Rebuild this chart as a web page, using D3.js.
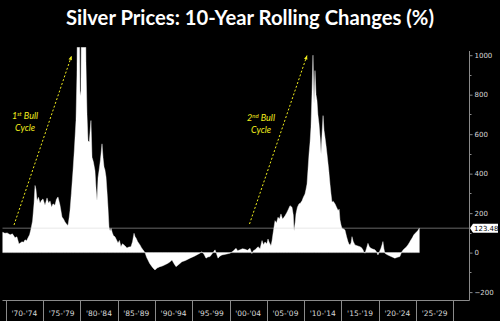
<!DOCTYPE html>
<html>
<head>
<meta charset="utf-8">
<script src="https://cdn.jsdelivr.net/npm/d3@7"></script>
<style>
  html, body { margin: 0; padding: 0; background: #000; }
  svg { display: block; }
</style>
</head>
<body>
<div id="chart"></div>
<script>
// 10-year rolling change of silver price, %
var years = [
  1969.6, 1969.9, 1970.2, 1970.6, 1970.9, 1971.25, 1971.5, 1971.78, 1972.0, 1972.18,
  1972.4, 1972.59, 1972.8, 1972.99, 1973.2, 1973.39, 1973.6, 1973.8, 1973.93, 1974.06,
  1974.2, 1974.4, 1974.6, 1974.8, 1975.0, 1975.27, 1975.54, 1975.75, 1975.94, 1976.15,
  1976.34, 1976.6, 1976.8, 1977.01, 1977.28, 1977.55, 1977.75, 1977.95, 1978.15, 1978.35,
  1978.5, 1978.62, 1978.8, 1979.02, 1979.2, 1979.42, 1979.55, 1979.69, 1979.85, 1979.96,
  1980.09, 1980.23, 1980.45, 1980.63, 1980.76, 1980.9, 1981.03, 1981.2, 1981.43, 1981.57,
  1981.75, 1981.97, 1982.1, 1982.24, 1982.38, 1982.51, 1982.7, 1982.91, 1983.05, 1983.18,
  1983.3, 1983.45, 1983.6, 1983.71, 1983.85, 1984.0, 1984.12, 1984.3, 1984.45, 1984.65,
  1984.85, 1985.05, 1985.25, 1985.45, 1985.65, 1985.86, 1986.05, 1986.26, 1986.5, 1986.79,
  1987.0, 1987.2, 1987.35, 1987.47, 1987.7, 1988.0, 1988.2, 1988.4, 1988.67, 1988.9,
  1989.07, 1989.3, 1989.61, 1989.8, 1990.01, 1990.3, 1990.68, 1991.0, 1991.35, 1991.7,
  1992.0, 1992.29, 1992.55, 1992.83, 1993.2, 1993.63, 1994.1, 1994.7, 1995.3, 1996.04,
  1996.31, 1996.6, 1996.85, 1997.1, 1997.39, 1997.7, 1998.06, 1998.25, 1998.46, 1998.7,
  1998.99, 1999.5, 2000.07, 2000.5, 2000.87, 2001.1, 2001.41, 2001.75, 2002.08, 2002.4,
  2002.75, 2003.0, 2003.2, 2003.42, 2003.82, 2004.1, 2004.36, 2004.55, 2004.76, 2005.0,
  2005.16, 2005.35, 2005.56, 2005.7, 2005.83, 2006.1, 2006.3, 2006.5, 2006.7, 2006.9,
  2007.1, 2007.31, 2007.5, 2007.71, 2007.9, 2008.11, 2008.38, 2008.55, 2008.65, 2008.8,
  2008.91, 2009.1, 2009.32, 2009.5, 2009.72, 2009.9, 2010.12, 2010.25, 2010.39, 2010.52,
  2010.66, 2010.8, 2010.92, 2011.05, 2011.19, 2011.28, 2011.33, 2011.4, 2011.46, 2011.6,
  2011.73, 2011.85, 2012.0, 2012.15, 2012.27, 2012.4, 2012.54, 2012.67, 2012.8, 2012.95,
  2013.07, 2013.3, 2013.47, 2013.6, 2013.74, 2013.9, 2014.14, 2014.35, 2014.55, 2014.7,
  2014.81, 2014.95, 2015.08, 2015.3, 2015.48, 2015.7, 2015.88, 2016.0, 2016.15, 2016.3,
  2016.42, 2016.6, 2016.82, 2017.1, 2017.49, 2017.7, 2017.89, 2018.0, 2018.16, 2018.35,
  2018.56, 2018.75, 2018.96, 2019.2, 2019.5, 2019.7, 2019.9, 2020.1, 2020.3, 2020.45,
  2020.57, 2020.7, 2020.83, 2021.1, 2021.5, 2021.8, 2022.17, 2022.5, 2022.84, 2023.0,
  2023.11, 2023.3, 2023.51, 2023.7, 2023.91, 2024.1, 2024.31, 2024.5, 2024.71, 2024.9,
  2025.1, 2025.25, 2025.37, 2025.45
];
var changes = [
  103, 98, 100, 90, 95, 75, 80, 44, 50, 55,
  52, 65, 60, 75, 90, 120, 160, 250, 340, 320,
  263, 280, 250, 265, 272, 240, 277, 250, 262, 230,
  247, 240, 270, 282, 240, 180, 170, 155, 145, 137,
  175, 213, 300, 415, 520, 669, 900, 1600, 1300, 795,
  820, 1800, 2100, 1500, 966, 700, 567, 560, 669, 483,
  460, 415, 330, 263, 380, 415, 470, 551, 480, 434,
  420, 383, 300, 231, 129, 110, 123, 100, 85, 80,
  65, 49, 62, 30, 45, 39, 32, 24, 28, 30,
  55, 98, 80, 74, 55, 39, 25, 14, 0, -25,
  -37, -55, -71, -80, -88, -78, -71, -68, -62, -55,
  -48, -37, -55, -71, -60, -46, -40, -28, -18, -3,
  5, -10, -28, -22, -20, -5, 14, -5, -28, -18,
  -12, -8, -3, 8, 22, 10, 14, 20, 17, 12,
  22, -5, 10, 14, 30, 20, 61, 40, 54, 45,
  69, 50, 35, 60, 95, 162, 150, 179, 170, 196,
  170, 179, 190, 205, 220, 238, 230, 190, 111, 150,
  196, 230, 247, 250, 263, 280, 297, 320, 348, 420,
  500, 560, 635, 800, 1000, 850, 753, 850, 922, 800,
  770, 700, 652, 580, 500, 600, 694, 620, 585, 540,
  500, 420, 348, 300, 255, 260, 247, 230, 213, 220,
  166, 140, 124, 120, 115, 80, 56, 45, 39, 50,
  81, 55, 39, 35, 30, 25, 14, 5, -3, 20,
  47, 30, 22, 18, 14, 5, -12, 5, 22, 40,
  56, 20, -3, -10, -17, -22, -28, -24, -20, -5,
  5, 15, 22, 28, 39, 50, 64, 75, 90, 98,
  106, 112, 120, 123.48
];
var lastValue = 123.48;

var binStarts = [1970, 1975, 1980, 1985, 1990, 1995, 2000, 2005, 2010, 2015, 2020, 2025];
var binLabels = ["'70-'74", "'75-'79", "'80-'84", "'85-'89", "'90-'94", "'95-'99",
                 "'00-'04", "'05-'09", "'10-'14", "'15-'19", "'20-'24", "'25-'29"];
var yTicks = [-200, 0, 200, 400, 600, 800, 1000];
var yMinor = [-100, 100, 300, 500, 700, 900];

var notes = [
  { sup: "1", supText: "st", line2: "Cycle", cx: 25, cy: 119, from: [14, 225], to: [71.5, 56] },
  { sup: "2", supText: "nd", line2: "Cycle", cx: 261, cy: 121, from: [249.5, 224], to: [307, 55.5] }
];

var W = 500, H = 321;
var svg = d3.select("#chart").append("svg")
    .attr("width", W)
    .attr("height", H)
    .style("background", "#000");

var x = d3.scaleLinear().domain([1970, 2030]).range([5.7, 453.3]);
var y = d3.scaleLinear().domain([-240, 1040]).range([300, 47.3]);

var axisColor = "#8a8a8a";
var textColor = "#d8d8d8";

// title
var title = svg.append("text")
    .attr("x", W / 2)
    .attr("y", 25)
    .attr("text-anchor", "middle")
    .style("font-family", "Lato, 'Open Sans', sans-serif")
    .style("font-weight", "bold")
    .style("font-size", "21px")
    .style("fill", "#fff")
    .text("Silver Prices: 10-Year Rolling Changes (%)");
if (title.node().getComputedTextLength() > 368) {
  title.attr("textLength", 368).attr("lengthAdjust", "spacingAndGlyphs");
}

svg.append("clipPath").attr("id", "plot")
  .append("rect")
    .attr("x", 0).attr("y", y(1040))
    .attr("width", x(2030)).attr("height", y(-240) - y(1040));

var data = years.map(function(d, i) { return { year: d, v: changes[i] }; });

var area = d3.area()
    .x(function(d) { return x(d.year); })
    .y0(y(0))
    .y1(function(d) { return y(d.v); });

svg.append("path")
    .datum(data)
    .attr("clip-path", "url(#plot)")
    .attr("d", area)
    .style("fill", "#fff")
    .style("stroke", "#fff")
    .style("stroke-width", 0.4);

// current level line
svg.append("line")
    .attr("x1", 2.5).attr("x2", 469.5)
    .attr("y1", y(lastValue)).attr("y2", y(lastValue))
    .style("stroke", "rgba(209,209,209,0.33)")
    .style("stroke-width", 1.7);

// right axis
var yAxis = d3.axisRight(y).tickValues(yTicks).tickSize(3).tickPadding(2)
    .tickFormat(d3.format("d"));
var gy = svg.append("g")
    .attr("transform", "translate(469.5,0)")
    .call(yAxis);
gy.select(".domain").remove();
gy.append("line")
    .attr("y1", 51).attr("y2", 300.5)
    .style("stroke", axisColor);
gy.selectAll(".tick line").style("stroke", axisColor);
gy.selectAll(".tick text")
    .style("fill", textColor)
    .style("font-family", "'DejaVu Sans', sans-serif")
    .style("font-size", "7px");
gy.selectAll(".minor")
  .data(yMinor)
  .enter().append("line")
    .attr("x1", 0).attr("x2", 2)
    .attr("y1", function(d) { return Math.round(y(d)) + 0.5; })
    .attr("y2", function(d) { return Math.round(y(d)) + 0.5; })
    .style("stroke", axisColor);

// value label on the axis
var ly = y(lastValue);
svg.append("path")
    .attr("d", "M470," + ly + "L473," + (ly - 4.5) + "H498V" + (ly + 4.5) + "H473Z")
    .style("fill", "#fff");
svg.append("text")
    .attr("x", 474)
    .attr("y", ly + 2.6)
    .style("font-family", "'DejaVu Sans', sans-serif")
    .style("font-size", "7px")
    .style("fill", "#000")
    .text(lastValue.toFixed(2));

// bottom axis with bin separators
var gx = svg.append("g");
gx.append("line")
    .attr("x1", 2.5).attr("x2", 469.5)
    .attr("y1", 300.5).attr("y2", 300.5)
    .style("stroke", axisColor);
gx.selectAll(".sep")
  .data(binStarts.concat([2030]))
  .enter().append("line")
    .attr("x1", function(d) { return Math.round(x(d)) + 0.5; })
    .attr("x2", function(d) { return Math.round(x(d)) + 0.5; })
    .attr("y1", 300.5).attr("y2", 321)
    .style("stroke", axisColor);
gx.selectAll(".lbl")
  .data(binStarts)
  .enter().append("text")
    .attr("x", function(d) { return x(d + 2.5); })
    .attr("y", 316)
    .attr("text-anchor", "middle")
    .style("font-family", "'DejaVu Sans', sans-serif")
    .style("font-size", "7.5px")
    .style("fill", textColor)
    .text(function(d, i) { return binLabels[i]; });

// bull cycle annotations
var yellow = "#f2ee1c";
notes.forEach(function(n) {
  svg.append("line")
      .attr("x1", n.from[0]).attr("y1", n.from[1])
      .attr("x2", n.to[0]).attr("y2", n.to[1])
      .style("stroke", yellow)
      .style("stroke-width", 1)
      .style("stroke-dasharray", "2,2");
  var ang = Math.atan2(n.to[1] - n.from[1], n.to[0] - n.from[0]);
  var hx = n.to[0], hy = n.to[1];
  var p1 = [hx - 4 * Math.cos(ang) + 1.8 * Math.sin(ang), hy - 4 * Math.sin(ang) - 1.8 * Math.cos(ang)];
  var p2 = [hx - 4 * Math.cos(ang) - 1.8 * Math.sin(ang), hy - 4 * Math.sin(ang) + 1.8 * Math.cos(ang)];
  svg.append("path")
      .attr("d", "M" + hx + "," + hy + "L" + p1 + "L" + p2 + "Z")
      .style("fill", yellow);

  var t = svg.append("text")
      .attr("x", n.cx)
      .attr("y", n.cy)
      .attr("text-anchor", "middle")
      .style("font-family", "Lato, 'Open Sans', sans-serif")
      .style("font-style", "italic")
      .style("font-size", "9px")
      .style("fill", yellow);
  t.append("tspan").text(n.sup);
  t.append("tspan").attr("dy", -3).style("font-size", "6px").text(n.supText);
  t.append("tspan").attr("dy", 3).text(" Bull");
  svg.append("text")
      .attr("x", n.cx)
      .attr("y", n.cy + 11.5)
      .attr("text-anchor", "middle")
      .style("font-family", "Lato, 'Open Sans', sans-serif")
      .style("font-style", "italic")
      .style("font-size", "9px")
      .style("fill", yellow)
      .text(n.line2);
});
</script>
</body>
</html>
